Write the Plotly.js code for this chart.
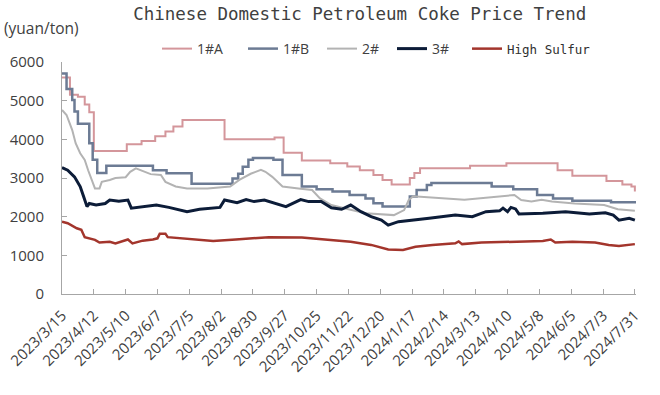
<!DOCTYPE html>
<html>
<head>
<meta charset="utf-8">
<script src="https://cdn.plot.ly/plotly-3.0.1.min.js"></script>
<style>
  html, body { margin: 0; padding: 0; background: #ffffff; }
  #chart { width: 660px; height: 395px; }
</style>
</head>
<body>
<div id="chart"></div>
<script>
// ---- Data ----
const tickDates = ["2023-03-15","2023-04-12","2023-05-10","2023-06-07","2023-07-05","2023-08-02","2023-08-30","2023-09-27","2023-10-25","2023-11-22","2023-12-20","2024-01-17","2024-02-14","2024-03-13","2024-04-10","2024-05-08","2024-06-05","2024-07-03","2024-07-31"];
const tickLabels = ["2023/3/15","2023/4/12","2023/5/10","2023/6/7","2023/7/5","2023/8/2","2023/8/30","2023/9/27","2023/10/25","2023/11/22","2023/12/20","2024/1/17","2024/2/14","2024/3/13","2024/4/10","2024/5/8","2024/6/5","2024/7/3","2024/7/31"];

const seriesNames = ["1#A","1#B","2#","3#","High Sulfur"];

const datesA = ["2023-03-15","2023-03-22","2023-03-29","2023-04-04","2023-04-08","2023-04-12","2023-05-11","2023-05-24","2023-06-05","2023-06-14","2023-06-21","2023-06-29","2023-08-05","2023-09-18","2023-09-26","2023-10-12","2023-11-06","2023-11-21","2023-12-02","2023-12-14","2023-12-22","2023-12-30","2024-01-15","2024-01-19","2024-01-24","2024-03-08","2024-04-09","2024-05-24","2024-06-06","2024-07-06","2024-07-20","2024-07-28","2024-07-31"];
const valuesA = [5600,5150,5100,4900,4700,3700,3870,3960,4080,4200,4330,4500,4000,4050,3650,3450,3380,3300,3200,3080,2950,2830,3000,3130,3250,3320,3380,3200,3060,2920,2830,2780,2650];

const datesB = ["2023-03-15","2023-03-19","2023-03-24","2023-03-26","2023-03-29","2023-04-08","2023-04-11","2023-04-15","2023-04-23","2023-06-03","2023-06-15","2023-07-07","2023-08-12","2023-08-17","2023-08-21","2023-08-26","2023-08-30","2023-09-17","2023-09-25","2023-10-12","2023-10-25","2023-11-08","2023-11-23","2023-12-07","2023-12-14","2023-12-22","2024-01-15","2024-01-21","2024-01-30","2024-02-03","2024-03-27","2024-04-15","2024-05-06","2024-05-20","2024-06-06","2024-07-10","2024-07-31"];
const valuesB = [5700,5300,5020,4720,4400,3900,3470,3130,3320,3200,3120,2850,2990,3110,3290,3470,3520,3470,3080,2780,2710,2650,2560,2470,2350,2260,2520,2690,2820,2870,2780,2710,2560,2470,2410,2370,2340];

const dates2 = ["2023-03-15","2023-03-19","2023-03-24","2023-03-27","2023-03-31","2023-04-04","2023-04-07","2023-04-10","2023-04-13","2023-04-17","2023-04-19","2023-04-26","2023-05-01","2023-05-10","2023-05-14","2023-05-19","2023-05-23","2023-05-28","2023-06-01","2023-06-10","2023-06-14","2023-06-23","2023-07-03","2023-07-21","2023-08-10","2023-08-18","2023-08-28","2023-09-06","2023-09-10","2023-09-16","2023-09-25","2023-10-09","2023-10-21","2023-10-28","2023-11-07","2023-11-22","2023-12-07","2024-01-01","2024-01-10","2024-01-14","2024-01-18","2024-03-03","2024-04-02","2024-04-16","2024-04-22","2024-05-01","2024-05-10","2024-05-19","2024-06-08","2024-07-04","2024-07-16","2024-07-31"];
const values2 = [4760,4630,4240,3900,3640,3470,3200,2950,2730,2730,2900,2950,3000,3020,3160,3250,3200,3130,3100,3080,2900,2780,2730,2730,2780,2950,3110,3210,3160,3030,2780,2730,2690,2470,2300,2190,2090,2040,2170,2430,2530,2440,2510,2560,2430,2390,2440,2390,2340,2300,2190,2150];

const dates3 = ["2023-03-15","2023-03-20","2023-03-26","2023-03-31","2023-04-03","2023-04-06","2023-04-08","2023-04-14","2023-04-22","2023-04-26","2023-05-04","2023-05-12","2023-05-15","2023-05-25","2023-06-06","2023-06-17","2023-07-03","2023-07-14","2023-07-26","2023-08-01","2023-08-05","2023-08-16","2023-08-24","2023-08-31","2023-09-09","2023-09-18","2023-09-28","2023-10-11","2023-10-18","2023-10-29","2023-11-07","2023-11-16","2023-11-24","2023-12-03","2023-12-12","2023-12-21","2023-12-27","2024-01-05","2024-01-20","2024-02-01","2024-02-24","2024-03-10","2024-03-22","2024-04-03","2024-04-06","2024-04-10","2024-04-13","2024-04-17","2024-04-20","2024-05-11","2024-05-31","2024-06-21","2024-07-05","2024-07-12","2024-07-17","2024-07-26","2024-07-31"];
const values3 = [3270,3200,3030,2780,2520,2260,2340,2300,2340,2430,2400,2430,2220,2260,2300,2240,2130,2190,2220,2240,2430,2360,2440,2390,2430,2340,2260,2440,2390,2390,2230,2190,2300,2130,2000,1910,1780,1870,1910,1960,2040,2000,2130,2150,2220,2130,2240,2200,2070,2090,2130,2070,2100,2040,1910,1960,1910];

const datesHS = ["2023-03-15","2023-03-20","2023-03-28","2023-04-01","2023-04-04","2023-04-07","2023-04-13","2023-04-17","2023-04-26","2023-05-01","2023-05-07","2023-05-12","2023-05-16","2023-05-25","2023-06-03","2023-06-07","2023-06-09","2023-06-14","2023-06-16","2023-06-29","2023-07-11","2023-07-26","2023-08-15","2023-08-27","2023-09-13","2023-10-12","2023-11-07","2023-11-24","2023-12-12","2023-12-27","2024-01-09","2024-01-20","2024-02-04","2024-02-24","2024-02-27","2024-03-01","2024-03-18","2024-04-17","2024-05-11","2024-05-18","2024-05-22","2024-06-06","2024-06-26","2024-07-08","2024-07-17","2024-07-31"];
const valuesHS = [1870,1830,1700,1660,1470,1440,1400,1330,1350,1310,1370,1410,1310,1380,1410,1440,1560,1560,1470,1440,1400,1370,1410,1440,1470,1460,1400,1350,1270,1150,1140,1220,1270,1310,1360,1290,1330,1350,1370,1410,1330,1350,1330,1270,1240,1290];

// ---- Styles ----
const colors = ["#d4969b","#6c7b94","#b3b3b3","#0c1c38","#a3352c"];
const widths = [2, 2.5, 2, 3, 2.5];
const shapes = ["hv","hv","linear","linear","linear"];
const allDates = [datesA, datesB, dates2, dates3, datesHS];
const allValues = [valuesA, valuesB, values2, values3, valuesHS];
const legendIds = ["legend2","legend3","legend4","legend5","legend6"];
const legendX = [0.1655, 0.3153, 0.4530, 0.5749, 0.7056];
const legendFonts = [
  { family: "Open Sans, sans-serif", size: 14, color: "#404040" },
  { family: "Open Sans, sans-serif", size: 14, color: "#404040" },
  { family: "Open Sans, sans-serif", size: 14, color: "#404040" },
  { family: "Open Sans, sans-serif", size: 14, color: "#404040" },
  { family: "DejaVu Sans Mono, monospace", size: 12.5, color: "#303030" }
];

const traces = seriesNames.map((n, i) => ({
  type: "scatter",
  mode: "lines",
  name: n,
  legend: legendIds[i],
  showlegend: true,
  x: allDates[i],
  y: allValues[i],
  line: { color: colors[i], width: widths[i], shape: shapes[i] },
  hoverinfo: "skip"
}));

const layout = {
  width: 660,
  height: 395,
  showlegend: true,
  margin: { l: 62, r: 24, t: 62, b: 101 },
  paper_bgcolor: "#ffffff",
  plot_bgcolor: "#ffffff",
  font: { family: "Open Sans, sans-serif", color: "#404040" },
  title: {
    text: "Chinese Domestic Petroleum Coke Price Trend",
    font: { family: "DejaVu Sans Mono, monospace", size: 17.5, color: "#404040" },
    xref: "container", yref: "container",
    x: 0.545, xanchor: "center",
    y: 0.965, yanchor: "middle"
  },
  xaxis: {
    type: "date",
    range: ["2023-03-15", "2024-08-01"],
    tickmode: "array",
    tickvals: tickDates,
    ticktext: tickLabels,
    tickangle: -45,
    ticks: "inside",
    ticklen: 5,
    tickcolor: "#a6a6a6",
    showline: true,
    linecolor: "#a6a6a6",
    linewidth: 1,
    showgrid: false,
    zeroline: false,
    ticklabelstandoff: 6,
    tickfont: { family: "Open Sans, sans-serif", size: 15, color: "#404040" }
  },
  yaxis: {
    range: [0, 6000],
    tickvals: [0,1000,2000,3000,4000,5000,6000],
    ticks: "inside",
    ticklen: 5,
    tickcolor: "#a6a6a6",
    showline: true,
    linecolor: "#a6a6a6",
    linewidth: 1,
    showgrid: false,
    zeroline: false,
    ticklabelstandoff: 14,
    tickfont: { family: "Open Sans, sans-serif", size: 15, color: "#404040" }
  },
  annotations: [{
    text: "(yuan/ton)",
    xref: "paper", yref: "paper",
    x: -0.1045, xanchor: "left",
    y: 1.1466, yanchor: "middle",
    showarrow: false,
    font: { family: "Open Sans, sans-serif", size: 15.5, color: "#404040" }
  }]
};

legendIds.forEach((id, i) => {
  layout[id] = {
    orientation: "h",
    xref: "paper", yref: "paper",
    x: legendX[i], xanchor: "left",
    y: 1.056, yanchor: "middle",
    font: legendFonts[i],
    bgcolor: "rgba(0,0,0,0)"
  };
});

Plotly.newPlot("chart", traces, layout, { staticPlot: true, displayModeBar: false });
</script>
</body>
</html>
